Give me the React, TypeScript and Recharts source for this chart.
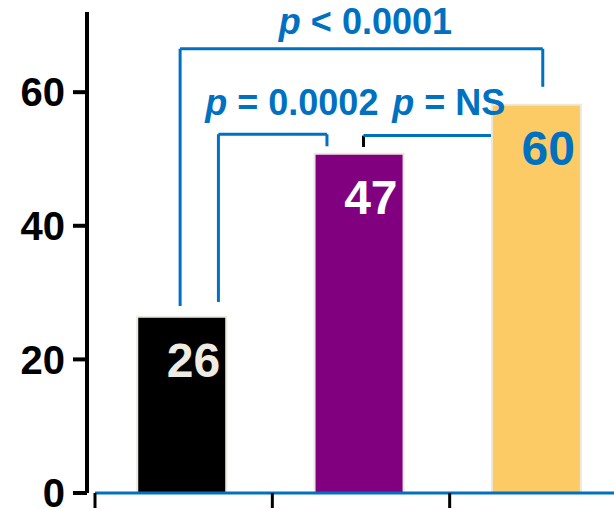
import { BarChart, Bar, XAxis, YAxis, Cell, LabelList, ReferenceLine, ReferenceDot } from 'recharts';

const FONT = '"Liberation Sans", Arial, sans-serif';
const BLUE = '#0070C0';

// groups are unlabelled in the picture
const categories = ['Group 1', 'Group 2', 'Group 3'];
const rates = [26.4, 50.8, 58.1];
const valueLabels = ['26', '47', '60'];
const yTicks = [0, 20, 40, 60];
const xTicks = [0, 1, 2, 3];

// comparison brackets, in axis units (x: group slots, y: value)
const brackets = [
  { x1: 0.48, x2: 2.525, top: 66.5, leftEnd: 28.0, rightEnd: 60.8, leftColor: BLUE },
  { x1: 0.696, x2: 1.308, top: 53.7, leftEnd: 28.6, rightEnd: 51.9, leftColor: BLUE },
  { x1: 1.514, x2: 2.233, top: 53.5, leftEnd: 51.8, rightEnd: null, leftColor: '#000' },
];
const pTexts = ['< 0.0001', '= 0.0002', '= NS'];
const pTextX = [1.525, 1.11, 1.995];
const pTextY = [68.7, 56.6, 56.6];

const barColors = ['#000000', '#800080', '#FDCB65'];
const labelColors = ['#EEECE2', '#FFFFFF', BLUE];

const data = categories.map((name, i) => ({
  name,
  pos: i + 0.49,
  value: rates[i],
  label: valueLabels[i],
}));

const renderBarLabel = (props: any) => {
  const { x, y, width, index, value } = props;
  return (
    <text
      x={Number(x) + Number(width) - 6}
      y={Number(y) + 60}
      textAnchor="end"
      fill={labelColors[index] ?? '#fff'}
      fontSize={48}
      fontWeight="bold"
      fontFamily={FONT}
    >
      {value}
    </text>
  );
};

const pLabel = (text: string) => (props: any) => {
  const vb = props.viewBox || {};
  const cx = (vb.x ?? 0) + (vb.width ?? 0) / 2;
  const cy = (vb.y ?? 0) + (vb.height ?? 0) / 2;
  return (
    <text x={cx} y={cy} textAnchor="middle" fill={BLUE} fontSize={36} fontWeight="bold" fontFamily={FONT}>
      <tspan fontStyle="italic">p</tspan>
      {' ' + text}
    </text>
  );
};

export default function App() {
  return (
    <div style={{ position: 'fixed', left: 0, top: 0, width: 614, height: 509, overflow: 'hidden', background: '#fff' }}>
      <BarChart width={627} height={509} data={data} margin={{ top: 12, right: 0, bottom: 0, left: 0 }}>
        <XAxis
          type="number"
          dataKey="pos"
          domain={[0, 3]}
          ticks={xTicks}
          interval={0}
          padding={{ left: 8, right: 0 }}
          axisLine={false}
          tickLine={{ stroke: '#000', strokeWidth: 3 }}
          tickSize={15}
          tick={{ fontSize: 1, fill: 'none' }}
          tickFormatter={() => ''}
          height={16}
        />
        <YAxis
          type="number"
          domain={[0, 72]}
          ticks={yTicks}
          interval={0}
          width={87}
          axisLine={{ stroke: '#000', strokeWidth: 4 }}
          tickLine={{ stroke: '#000', strokeWidth: 4 }}
          tickSize={14}
          tickMargin={8}
          tick={{ fill: '#000', fontSize: 40, fontWeight: 'bold', fontFamily: FONT }}
        />
        <Bar dataKey="value" barSize={89} isAnimationActive={false} stroke="#ECE9DF" strokeWidth={2}>
          {data.map((d, i) => (
            <Cell key={d.name} fill={barColors[i]} />
          ))}
          <LabelList dataKey="label" content={renderBarLabel} />
        </Bar>
        <ReferenceLine
          segment={[{ x: 0, y: 0 }, { x: 3, y: 0 }]}
          stroke={BLUE}
          strokeWidth={3}
          ifOverflow="visible"
        />
        {brackets.map((b, i) => [
          <ReferenceLine
            key={`l${i}`}
            segment={[{ x: b.x1, y: b.leftEnd }, { x: b.x1, y: b.top }]}
            stroke={b.leftColor}
            strokeWidth={3}
            ifOverflow="visible"
          />,
          <ReferenceLine
            key={`t${i}`}
            segment={[{ x: b.x1, y: b.top }, { x: b.x2, y: b.top }]}
            stroke={BLUE}
            strokeWidth={3}
            ifOverflow="visible"
          />,
          b.rightEnd != null ? (
            <ReferenceLine
              key={`r${i}`}
              segment={[{ x: b.x2, y: b.top }, { x: b.x2, y: b.rightEnd }]}
              stroke={BLUE}
              strokeWidth={3}
              ifOverflow="visible"
            />
          ) : null,
        ])}
        {pTexts.map((t, i) => (
          <ReferenceDot
            key={t}
            x={pTextX[i]}
            y={pTextY[i]}
            r={0}
            fill="none"
            stroke="none"
            ifOverflow="visible"
            label={pLabel(t)}
          />
        ))}
      </BarChart>
    </div>
  );
}
